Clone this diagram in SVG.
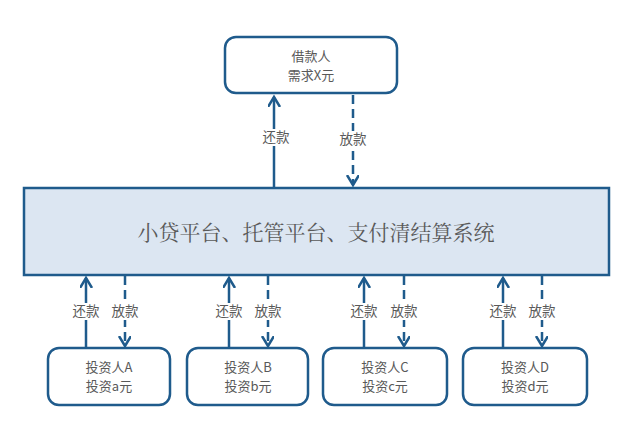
<svg xmlns="http://www.w3.org/2000/svg" width="640" height="437" viewBox="0 0 640 437">
<style>
.box{fill:#fff;stroke:#1f5b8c;stroke-width:2.5}
.main{fill:#dce6f2;stroke:#1f5b8c;stroke-width:2.5}
.ln{stroke:#1f5b8c;stroke-width:2.5;fill:none}
.dash{stroke-dasharray:9,5}
.t{font-family:"Noto Sans CJK SC","Liberation Sans",sans-serif;fill:#595959;font-size:13px;text-anchor:middle}
.lb{font-family:"Noto Sans CJK SC","Liberation Sans",sans-serif;fill:#595959;font-size:13.5px;text-anchor:middle}
.mt{font-family:"Noto Serif CJK SC","Noto Sans CJK SC",serif;fill:#595959;font-size:21px;text-anchor:middle}
.bg{fill:#fff}
</style>
<defs>
<marker id="ah" markerWidth="14" markerHeight="14" refX="10" refY="6" orient="auto" markerUnits="userSpaceOnUse">
<polyline points="0,0 10,6 0,12" fill="none" stroke="#1f5b8c" stroke-width="2.5"/>
</marker>
</defs>
<g id="connectors">
<line class="ln" x1="274" y1="187" x2="274" y2="97" marker-end="url(#ah)"/>
<line class="ln dash" x1="353" y1="95" x2="353" y2="185" marker-end="url(#ah)"/>
<line class="ln" x1="86" y1="347" x2="86" y2="278" marker-end="url(#ah)"/>
<line class="ln dash" x1="125" y1="276" x2="125" y2="346" marker-end="url(#ah)"/>
<line class="ln" x1="229" y1="347" x2="229" y2="278" marker-end="url(#ah)"/>
<line class="ln dash" x1="268" y1="276" x2="268" y2="346" marker-end="url(#ah)"/>
<line class="ln" x1="364" y1="347" x2="364" y2="278" marker-end="url(#ah)"/>
<line class="ln dash" x1="404" y1="276" x2="404" y2="346" marker-end="url(#ah)"/>
<line class="ln" x1="503" y1="347" x2="503" y2="278" marker-end="url(#ah)"/>
<line class="ln dash" x1="542" y1="276" x2="542" y2="346" marker-end="url(#ah)"/>
<rect class="bg" x="261" y="129" width="30" height="17"/>
<text class="lb" x="276" y="142">还款</text>
<rect class="bg" x="338" y="131" width="30" height="17"/>
<text class="lb" x="353" y="144">放款</text>
<rect class="bg" x="71" y="303" width="30" height="17"/>
<text class="lb" x="86" y="316">还款</text>
<rect class="bg" x="110" y="303" width="30" height="17"/>
<text class="lb" x="125" y="316">放款</text>
<rect class="bg" x="214" y="303" width="30" height="17"/>
<text class="lb" x="229" y="316">还款</text>
<rect class="bg" x="253" y="303" width="30" height="17"/>
<text class="lb" x="268" y="316">放款</text>
<rect class="bg" x="349" y="303" width="30" height="17"/>
<text class="lb" x="364" y="316">还款</text>
<rect class="bg" x="389" y="303" width="30" height="17"/>
<text class="lb" x="404" y="316">放款</text>
<rect class="bg" x="488" y="303" width="30" height="17"/>
<text class="lb" x="503" y="316">还款</text>
<rect class="bg" x="527" y="303" width="30" height="17"/>
<text class="lb" x="542" y="316">放款</text>
</g>
<g id="borrower">
<rect class="box" x="225" y="37" width="172" height="56" rx="11"/>
<text class="t" x="311" y="61">借款人</text>
<text class="t" x="311" y="80">需求X元</text>
</g>
<g id="platform">
<rect class="main" x="24" y="188" width="585" height="87"/>
<text class="mt" x="316" y="240">小贷平台、托管平台、支付清结算系统</text>
</g>
<g id="investorA">
<rect class="box" x="48" y="348" width="122" height="57" rx="11"/>
<text class="t" x="109" y="372">投资人A</text>
<text class="t" x="109" y="391">投资a元</text>
</g>
<g id="investorB">
<rect class="box" x="187" y="348" width="121" height="57" rx="11"/>
<text class="t" x="248" y="372">投资人B</text>
<text class="t" x="248" y="391">投资b元</text>
</g>
<g id="investorC">
<rect class="box" x="323" y="348" width="124" height="57" rx="11"/>
<text class="t" x="385" y="372">投资人C</text>
<text class="t" x="385" y="391">投资c元</text>
</g>
<g id="investorD">
<rect class="box" x="463" y="348" width="124" height="57" rx="11"/>
<text class="t" x="525" y="372">投资人D</text>
<text class="t" x="525" y="391">投资d元</text>
</g>
</svg>
